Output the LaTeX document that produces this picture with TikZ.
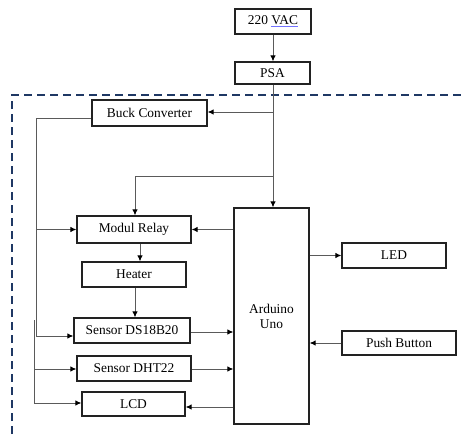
\documentclass[tikz,border=0pt]{standalone}
\usepackage{fontspec}
\setmainfont{Liberation Serif}
\usetikzlibrary{arrows.meta}
\definecolor{dashnavy}{HTML}{1F3864}
\definecolor{wire}{HTML}{5A5A5A}
\definecolor{boxline}{HTML}{222222}
\tikzset{
  blk/.style={draw=boxline, line width=1.3pt, fill=white, inner sep=0pt,
    font=\fontsize{13.4}{15}\selectfont, align=center},
  wireline/.style={draw=wire, line width=0.9pt},
  arr/.style={wireline, -{Latex[length=6pt,width=5.5pt,color=black]}},
}
\begin{document}
\begin{tikzpicture}[x=1pt,y=-1pt]
\useasboundingbox (0,0) rectangle (466,434);
% dashed enclosure
\draw[dashnavy, line width=1.4pt, dash pattern=on 8pt off 5pt] (12,434) -- (12,95) -- (466,95);

% nodes
\node[blk, minimum width=76pt, minimum height=25pt] (vac) at (273,21.5) {220 {\color{blue!55}\underline{\color{black}VAC}}};
\node[blk, minimum width=75pt, minimum height=22pt] (psa) at (272.5,73) {PSA};
\node[blk, minimum width=115pt, minimum height=26pt] (buck) at (149.5,113) {Buck Converter};
\node[blk, minimum width=114pt, minimum height=27pt] (relay) at (134,229.5) {Modul Relay};
\node[blk, minimum width=104pt, minimum height=25pt] (heater) at (134,274.5) {Heater};
\node[blk, minimum width=116pt, minimum height=25pt] (ds) at (132,330.5) {Sensor DS18B20};
\node[blk, minimum width=114pt, minimum height=25pt] (dht) at (134,368.5) {Sensor DHT22};
\node[blk, minimum width=103pt, minimum height=24pt] (lcd) at (133.5,404) {LCD};
\node[blk, minimum width=75pt, minimum height=216pt] (ard) at (271.5,316) {Arduino\\Uno};
\node[blk, minimum width=104pt, minimum height=25pt] (led) at (394,255.5) {LED};
\node[blk, minimum width=114pt, minimum height=24pt] (push) at (399,343) {Push Button};

% coordinates
\coordinate (psaout) at (273,84);
\coordinate (jbuck) at (273,112);
\coordinate (jrelay) at (273,176);
\coordinate (rtop) at (135,176);
\coordinate (bl) at (36,118);
\coordinate (bds) at (36,336);
\coordinate (b2top) at (34,320);
\coordinate (bdht) at (34,369);
\coordinate (blcd) at (34,403);

% power path
\draw[arr] (vac.south -| psaout) -- (psa.north -| psaout);
\draw[wireline] (psa.south -| psaout) -- (jbuck);
\draw[arr] (jbuck) -- (buck.east |- jbuck);
\draw[arr] (jbuck) -- (ard.north -| jbuck);
\draw[arr] (jrelay) -- (rtop) -- (relay.north -| rtop);

% buck distribution
\draw[wireline] (buck.west |- bl) -- (bl) -- (bds);
\draw[arr] (36,229.5) -- (relay.west);
\draw[arr] (bds) -- (ds.west |- bds);
\draw[wireline] (b2top) -- (blcd);
\draw[arr] (bdht) -- (dht.west |- bdht);
\draw[arr] (blcd) -- (lcd.west |- blcd);

% chain
\draw[arr] (relay.south -| 140,0) -- (heater.north -| 140,0);
\draw[arr] (heater.south -| 135,0) -- (ds.north -| 135,0);

% arduino links
\draw[arr] (ard.west |- relay.east) -- (relay.east);
\draw[arr] (ds.east |- 0,332) -- (ard.west |- 0,332);
\draw[arr] (dht.east |- 0,369) -- (ard.west |- 0,369);
\draw[arr] (ard.west |- 0,407) -- (lcd.east |- 0,407);
\draw[arr] (ard.east |- led.west) -- (led.west);
\draw[arr] (push.west) -- (ard.east |- push.west);
\end{tikzpicture}
\end{document}
